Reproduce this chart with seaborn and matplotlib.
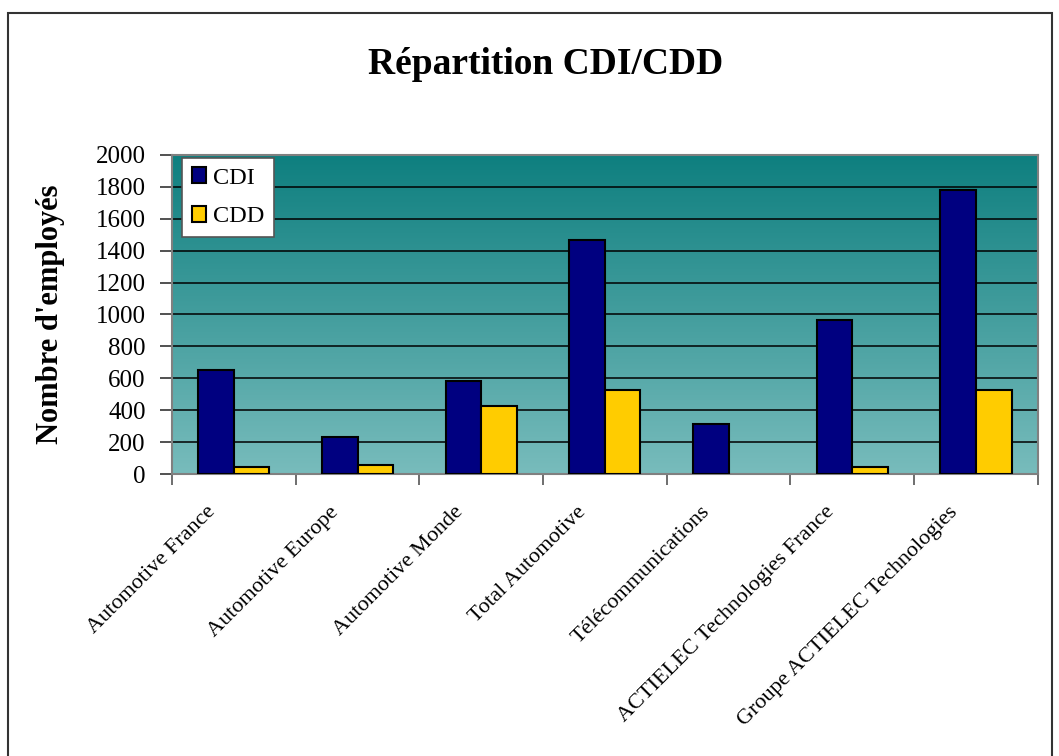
import matplotlib
matplotlib.use("Agg")
import matplotlib.pyplot as plt
from matplotlib.patches import Rectangle, Patch
from matplotlib.colors import LinearSegmentedColormap
from matplotlib.transforms import ScaledTranslation
import seaborn as sns
import pandas as pd
import numpy as np

# data
categories = ["Automotive France", "Automotive Europe", "Automotive Monde", "Total Automotive",
              "Télécommunications", "ACTIELEC Technologies France", "Groupe ACTIELEC Technologies"]
cdi = [655, 230, 585, 1470, 312, 967, 1782]
cdd = [46, 58, 424, 528, 0, 46, 528]
series = ["CDI", "CDD"]
colors = ["#000080", "#ffcc00"]

df = pd.DataFrame({
    "cat": categories * 2,
    "val": cdi + cdd,
    "type": ["CDI"] * len(categories) + ["CDD"] * len(categories),
})

sns.set_style("white")
plt.rcParams["font.family"] = ["Liberation Serif", "DejaVu Serif"]
plt.rcParams["text.color"] = "black"
plt.rcParams["axes.labelcolor"] = "black"
plt.rcParams["xtick.color"] = "black"
plt.rcParams["ytick.color"] = "black"

fig = plt.figure(figsize=(10.59, 7.56), dpi=100)
ax = fig.add_axes([0.1624, 0.373, 0.8176, 0.422])

# gradient background
cmap = LinearSegmentedColormap.from_list("bg", ["#78bcbc", "#0e7f7f"])
grad = np.linspace(0, 1, 256).reshape(-1, 1)
ax.imshow(grad, cmap=cmap, aspect="auto", origin="lower", extent=[0, 1, 0, 1],
          transform=ax.transAxes, zorder=0)

sns.barplot(data=df, x="cat", y="val", hue="type", hue_order=series, palette=colors,
            saturation=1, width=0.575, edgecolor="black", linewidth=1.5, ax=ax, zorder=3,
            legend=False)
# empty bars (height 0) show no outline in the original
for p in ax.patches:
    if p.get_height() == 0:
        p.set_linewidth(0)

ax.set_ylim(0, 2000)
ax.set_xlim(-0.5, len(categories) - 0.5)
ax.set_yticks(range(0, 2001, 200))
for y in range(200, 2000, 200):
    ax.axhline(y, color="black", lw=1.1, zorder=1)

for s in ax.spines.values():
    s.set_color("#808080")
    s.set_linewidth(1.5)

ax.tick_params(axis="y", labelsize=18, length=9, width=1.2, color="#333333", direction="out", left=True, pad=10)
ax.set_xticks(range(len(categories)))
ax.set_xticklabels(categories, rotation=45, ha="right", rotation_mode="anchor", fontsize=16)
ax.tick_params(axis="x", length=0, pad=12)
shift = ScaledTranslation(-28 / 100, -12 / 100, fig.dpi_scale_trans)
for lbl in ax.get_xticklabels():
    lbl.set_transform(lbl.get_transform() + shift)
ax.set_xticks(np.arange(-0.5, len(categories), 1), minor=True)
ax.tick_params(axis="x", which="minor", length=8, width=1.2, color="#555555", bottom=True)

ax.set_xlabel("")
ax.set_ylabel("Nombre d'employés", fontsize=22, fontweight="bold", labelpad=22)

handles = [Patch(facecolor=c, edgecolor="black", linewidth=1.5, label=s) for s, c in zip(series, colors)]
leg = ax.legend(handles=handles, loc="upper left", bbox_to_anchor=(0.012, 0.99), borderaxespad=0,
                fontsize=17.5, frameon=True, fancybox=False, edgecolor="#555555", facecolor="white",
                framealpha=1, handlelength=0.6, handleheight=0.6, labelspacing=0.72, borderpad=0.38,
                handletextpad=0.3)
leg.get_frame().set_linewidth(1.2)

fig.text(0.515, 0.915, "Répartition CDI/CDD", ha="center", va="center", fontsize=27, fontweight="bold")

fig.patches.append(Rectangle((8 / 1059, -0.05), (1052 - 8) / 1059, 1.05 - 13 / 756,
                             transform=fig.transFigure, fill=False, edgecolor="#333333", lw=1.5))

fig.savefig("out.png", dpi=100)
